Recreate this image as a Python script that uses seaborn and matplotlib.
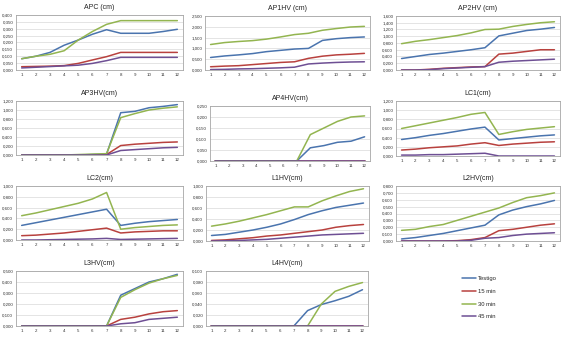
import matplotlib
matplotlib.use("Agg")
import matplotlib.pyplot as plt
from matplotlib.ticker import FuncFormatter, MultipleLocator
import seaborn as sns
import pandas as pd
import numpy as np

sns.set_style("white")
plt.rcParams["font.family"] = ["Liberation Sans", "DejaVu Sans"]

weeks = list(range(1, 13))
treatments = ["Testigo", "15 min", "30 min", "45 min"]
palette = {"Testigo": "#4a74ae", "15 min": "#b8413e", "30 min": "#93b550", "45 min": "#6e4f94"}

# Values per variable, one list per treatment (Testigo, 15, 30, 45 min)
apc_testigo = [0.082, 0.100, 0.128, 0.180, 0.218, 0.260, 0.293, 0.267, 0.267, 0.267, 0.280, 0.296]
apc_15 = [0.024, 0.026, 0.028, 0.032, 0.048, 0.073, 0.097, 0.128, 0.128, 0.128, 0.128, 0.128]
apc_30 = [0.082, 0.100, 0.114, 0.140, 0.218, 0.280, 0.332, 0.359, 0.359, 0.359, 0.359, 0.359]
apc_45 = [0.015, 0.020, 0.025, 0.030, 0.035, 0.048, 0.068, 0.092, 0.092, 0.092, 0.092, 0.092]

ap1_testigo = [0.58, 0.65, 0.70, 0.76, 0.85, 0.91, 0.97, 1.00, 1.37, 1.45, 1.50, 1.53]
ap1_15 = [0.15, 0.18, 0.20, 0.25, 0.30, 0.35, 0.38, 0.54, 0.64, 0.70, 0.73, 0.77]
ap1_30 = [1.18, 1.27, 1.32, 1.36, 1.43, 1.53, 1.64, 1.70, 1.84, 1.92, 1.99, 2.02]
ap1_45 = [0.02, 0.03, 0.05, 0.06, 0.08, 0.10, 0.13, 0.28, 0.32, 0.35, 0.37, 0.38]

ap2_testigo = [0.34, 0.40, 0.46, 0.50, 0.55, 0.60, 0.66, 1.01, 1.09, 1.17, 1.21, 1.26]
ap2_15 = [0.00, 0.00, 0.02, 0.05, 0.07, 0.09, 0.10, 0.47, 0.50, 0.55, 0.60, 0.60]
ap2_30 = [0.78, 0.85, 0.90, 0.96, 1.02, 1.10, 1.20, 1.21, 1.29, 1.35, 1.40, 1.43]
ap2_45 = [0.00, 0.00, 0.01, 0.04, 0.06, 0.08, 0.10, 0.23, 0.26, 0.28, 0.30, 0.32]

ap3_testigo = [0, 0, 0, 0, 0, 0.01, 0.02, 0.94, 0.97, 1.05, 1.08, 1.12]
ap3_15 = [0, 0, 0, 0, 0, 0, 0.01, 0.21, 0.24, 0.26, 0.28, 0.29]
ap3_30 = [0, 0, 0, 0, 0.01, 0.02, 0.03, 0.83, 0.92, 1.00, 1.04, 1.07]
ap3_45 = [0, 0, 0, 0, 0, 0, 0, 0.10, 0.12, 0.14, 0.16, 0.17]

ap4_testigo = [0, 0, 0, 0, 0, 0, 0, 0.060, 0.070, 0.085, 0.090, 0.110]
ap4_15 = [0] * 12
ap4_30 = [0, 0, 0, 0, 0, 0, 0, 0.120, 0.150, 0.180, 0.200, 0.205]
ap4_45 = [0] * 12

lc1_testigo = [0.36, 0.40, 0.45, 0.49, 0.54, 0.59, 0.63, 0.35, 0.38, 0.41, 0.44, 0.46]
lc1_15 = [0.13, 0.15, 0.18, 0.20, 0.22, 0.26, 0.29, 0.23, 0.26, 0.28, 0.30, 0.31]
lc1_30 = [0.60, 0.66, 0.72, 0.78, 0.84, 0.91, 0.95, 0.47, 0.53, 0.58, 0.61, 0.64]
lc1_45 = [0.02, 0.02, 0.03, 0.03, 0.04, 0.05, 0.06, 0.00, 0.00, 0.00, 0.00, 0.00]

lc2_testigo = [0.27, 0.32, 0.37, 0.42, 0.47, 0.52, 0.57, 0.27, 0.31, 0.34, 0.36, 0.38]
lc2_15 = [0.08, 0.09, 0.11, 0.13, 0.16, 0.19, 0.22, 0.13, 0.15, 0.16, 0.17, 0.17]
lc2_30 = [0.45, 0.50, 0.56, 0.62, 0.68, 0.76, 0.88, 0.20, 0.23, 0.25, 0.27, 0.28]
lc2_45 = [0.00, 0.00, 0.005, 0.01, 0.015, 0.02, 0.03, 0.01, 0.015, 0.02, 0.025, 0.03]

l1_testigo = [0.10, 0.12, 0.16, 0.20, 0.25, 0.31, 0.39, 0.48, 0.55, 0.61, 0.65, 0.69]
l1_15 = [0.01, 0.02, 0.04, 0.06, 0.09, 0.11, 0.14, 0.17, 0.20, 0.25, 0.28, 0.30]
l1_30 = [0.27, 0.31, 0.36, 0.42, 0.48, 0.55, 0.62, 0.62, 0.73, 0.82, 0.90, 0.95]
l1_45 = [0.00, 0.005, 0.01, 0.02, 0.03, 0.05, 0.07, 0.09, 0.11, 0.12, 0.13, 0.14]

l2_testigo = [0.03, 0.05, 0.08, 0.11, 0.15, 0.19, 0.23, 0.38, 0.45, 0.50, 0.54, 0.59]
l2_15 = [0, 0, 0, 0, 0.005, 0.02, 0.05, 0.15, 0.17, 0.20, 0.23, 0.25]
l2_30 = [0.155, 0.17, 0.21, 0.24, 0.30, 0.36, 0.42, 0.48, 0.56, 0.63, 0.66, 0.70]
l2_45 = [0, 0, 0, 0, 0, 0.01, 0.04, 0.05, 0.08, 0.10, 0.11, 0.12]

l3_testigo = [0, 0, 0, 0, 0, 0, 0, 0.28, 0.34, 0.40, 0.43, 0.47]
l3_15 = [0, 0, 0, 0, 0, 0, 0, 0.06, 0.08, 0.11, 0.13, 0.14]
l3_30 = [0, 0, 0, 0, 0, 0, 0, 0.26, 0.33, 0.39, 0.43, 0.46]
l3_45 = [0, 0, 0, 0, 0, 0, 0, 0.02, 0.03, 0.06, 0.07, 0.08]

l4_testigo = [0, 0, 0, 0, 0, 0, 0, 0.028, 0.039, 0.046, 0.054, 0.066]
l4_15 = [0] * 12
l4_30 = [0, 0, 0, 0, 0, 0, 0, 0, 0.040, 0.063, 0.072, 0.079]
l4_45 = [0] * 12

panels = [
    ("APC (cm)", [apc_testigo, apc_15, apc_30, apc_45], 0.40, 0.05, (16, 15, 183, 70)),
    ("AP1HV (cm)", [ap1_testigo, ap1_15, ap1_30, ap1_45], 2.5, 0.5, (205, 16, 370, 70)),
    ("AP2HV (cm)", [ap2_testigo, ap2_15, ap2_30, ap2_45], 1.6, 0.2, (396, 16, 560, 70)),
    ("AP3HV(cm)", [ap3_testigo, ap3_15, ap3_30, ap3_45], 1.2, 0.2, (16, 101, 183, 155)),
    ("AP4HV(cm)", [ap4_testigo, ap4_15, ap4_30, ap4_45], 0.25, 0.05, (210, 106, 370, 161)),
    ("LC1(cm)", [lc1_testigo, lc1_15, lc1_30, lc1_45], 1.2, 0.2, (396, 101, 560, 156)),
    ("LC2(cm)", [lc2_testigo, lc2_15, lc2_30, lc2_45], 1.0, 0.2, (16, 186, 183, 240)),
    ("L1HV(cm)", [l1_testigo, l1_15, l1_30, l1_45], 1.0, 0.2, (206, 186, 369, 241)),
    ("L2HV(cm)", [l2_testigo, l2_15, l2_30, l2_45], 0.8, 0.1, (396, 186, 560, 241)),
    ("L3HV(cm)", [l3_testigo, l3_15, l3_30, l3_45], 0.5, 0.1, (16, 271, 183, 326)),
    ("L4HV(cm)", [l4_testigo, l4_15, l4_30, l4_45], 0.1, 0.02, (206, 271, 368, 326)),
]

W, H = 566, 338
fig = plt.figure(figsize=(W / 100, H / 100), dpi=100)
fig.patch.set_facecolor("white")

comma_fmt = FuncFormatter(lambda v, _: f"{v:.3f}".replace(".", ","))

handles = None
for title, series, ymax, step, (l, t, r, b) in panels:
    ax = fig.add_axes([l / W, 1 - b / H, (r - l) / W, (b - t) / H])
    df = pd.DataFrame({
        "semana": weeks * 4,
        "valor": [v for s in series for v in s],
        "tratamiento": [name for name in treatments for _ in weeks],
    })
    sns.lineplot(data=df, x="semana", y="valor", hue="tratamiento",
                 hue_order=treatments, palette=palette, linewidth=1.1,
                 ax=ax, legend=True)
    handles, labels = ax.get_legend_handles_labels()
    ax.get_legend().remove()
    ax.set_xlim(0.6, 12.4)
    ax.set_ylim(0, ymax)
    ax.yaxis.set_major_locator(MultipleLocator(step))
    ax.yaxis.set_major_formatter(comma_fmt)
    ax.set_xticks(weeks)
    ax.grid(axis="y", color="#d9d9d9", linewidth=0.5)
    ax.set_axisbelow(True)
    ax.tick_params(axis="both", labelsize=3.2, length=0, pad=2, colors="#333333")
    for sp in ax.spines.values():
        sp.set_color("#a6a6a6")
        sp.set_linewidth(0.6)
    ax.set_xlabel("")
    ax.set_ylabel("")
    ax.set_title(title, fontsize=5.0, pad=4, color="#222222")

leg = fig.legend(handles, treatments, loc="upper left",
                 bbox_to_anchor=(460 / W, 1 - 274 / H), frameon=False,
                 fontsize=4.2, handlelength=2.4, labelspacing=1.3,
                 handletextpad=0.3, borderaxespad=0)
for line in leg.get_lines():
    line.set_linewidth(1.1)

fig.savefig("out.png", dpi=100, facecolor="white")
